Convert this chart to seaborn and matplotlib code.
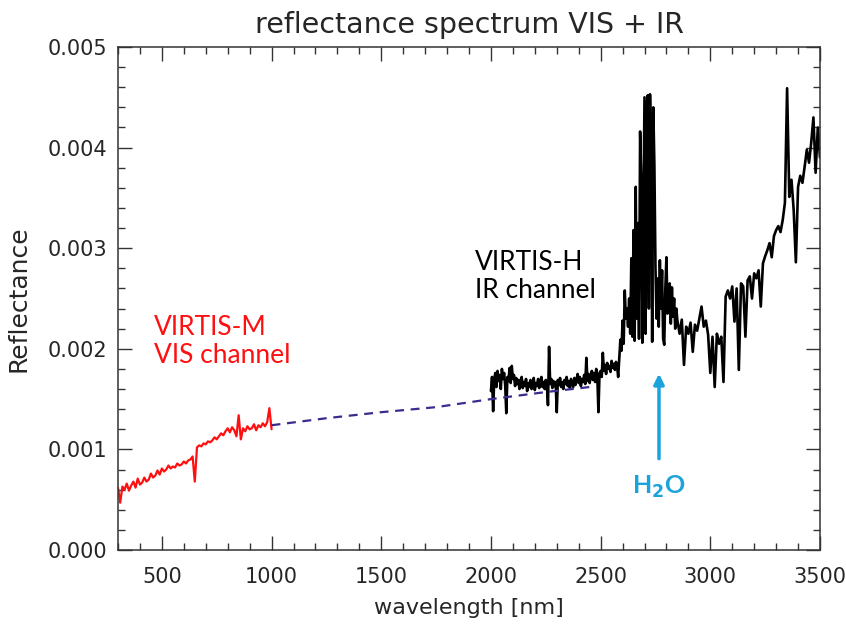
import numpy as np
import matplotlib
matplotlib.use("Agg")
import matplotlib.pyplot as plt
import seaborn as sns
from matplotlib.ticker import MultipleLocator, FormatStrFormatter

# ------------------------------
# Data
# ------------------------------
# VIRTIS-M visible channel (300-1000 nm, 10 nm steps)
vis_nm = np.arange(300, 1001, 10)
vis_refl = [
    0.00062, 0.00047, 0.00063, 0.00060, 0.00066, 0.00059, 0.00064, 0.00068, 0.00062, 0.00071,
    0.00065, 0.00067, 0.00072, 0.00068, 0.00070, 0.00076, 0.00072, 0.00074, 0.00079, 0.00075,
    0.00081, 0.00078, 0.00080, 0.00084, 0.00081, 0.00083, 0.00082, 0.00086, 0.00084, 0.00085,
    0.00088, 0.00086, 0.00089, 0.00090, 0.00093, 0.00068, 0.00102, 0.00104, 0.00103, 0.00106,
    0.00105, 0.00108, 0.00107, 0.00109, 0.00112, 0.00110, 0.00113, 0.00116, 0.00114, 0.00118,
    0.00121, 0.00117, 0.00122, 0.00119, 0.00113, 0.00134, 0.00110, 0.00121, 0.00118, 0.00123,
    0.00120, 0.00121, 0.00125, 0.00119, 0.00124, 0.00122, 0.00126, 0.00123, 0.00127, 0.00141,
    0.00120,
]

# dashed link between the two instruments
gap_nm = [1000, 1250, 1500, 1750, 2000, 2250, 2450]
gap_refl = [0.00124, 0.00131, 0.00137, 0.00142, 0.00150, 0.00157, 0.00162]

# VIRTIS-H infrared channel (5 nm up to 2845 nm, then 10 nm)
ir_nm = np.r_[np.arange(2000, 2850, 5), np.arange(2850, 3501, 10)]
ir_refl = [
    # 2000 - 2595
    0.00158, 0.00172, 0.00138, 0.00170, 0.00176, 0.00162, 0.00178, 0.00168, 0.00174, 0.00160,
    0.00180, 0.00170, 0.00176, 0.00164, 0.00136, 0.00172, 0.00168, 0.00181, 0.00166, 0.00183,
    0.00170, 0.00174, 0.00163, 0.00171, 0.00165, 0.00169, 0.00160, 0.00168, 0.00172, 0.00161,
    0.00167, 0.00163, 0.00170, 0.00158, 0.00166, 0.00162, 0.00169, 0.00160, 0.00167, 0.00171,
    0.00159, 0.00166, 0.00163, 0.00170, 0.00161, 0.00168, 0.00172, 0.00162, 0.00167, 0.00160,
    0.00169, 0.00164, 0.00144, 0.00202, 0.00165, 0.00170, 0.00161, 0.00168, 0.00163, 0.00167,
    0.00137, 0.00169, 0.00164, 0.00171, 0.00162, 0.00167, 0.00160, 0.00169, 0.00165, 0.00172,
    0.00163, 0.00168, 0.00161, 0.00170, 0.00166, 0.00162, 0.00171, 0.00164, 0.00169, 0.00175,
    0.00166, 0.00172, 0.00163, 0.00170, 0.00167, 0.00174, 0.00165, 0.00191, 0.00168, 0.00175,
    0.00166, 0.00173, 0.00178, 0.00169, 0.00176, 0.00167, 0.00180, 0.00172, 0.00137, 0.00176,
    0.00178, 0.00172, 0.00196, 0.00178, 0.00184, 0.00175, 0.00186, 0.00180, 0.00183, 0.00177,
    0.00188, 0.00181, 0.00185, 0.00179, 0.00187, 0.00183, 0.00172, 0.00190, 0.00209, 0.00198,
    # 2600 - 2845
    0.00228, 0.00205, 0.00258, 0.00230, 0.00240, 0.00222, 0.00250, 0.00215, 0.00290, 0.00212,
    0.00318, 0.00208, 0.00361, 0.00230, 0.00325, 0.00210, 0.00416, 0.00371, 0.00206, 0.00330,
    0.00450, 0.00215, 0.00442, 0.00452, 0.00240, 0.00453, 0.00400, 0.00207, 0.00440, 0.00383,
    0.00281, 0.00230, 0.00270, 0.00222, 0.00288, 0.00240, 0.00278, 0.00210, 0.00204, 0.00260,
    0.00291, 0.00235, 0.00255, 0.00265, 0.00225, 0.00261, 0.00232, 0.00250, 0.00220, 0.00240,
    # 2850 - 3500
    0.00228, 0.00215, 0.00229, 0.00184, 0.00222, 0.00215, 0.00226, 0.00197, 0.00224, 0.00218,
    0.00230, 0.00242, 0.00222, 0.00228, 0.00214, 0.00176, 0.00212, 0.00162, 0.00215, 0.00205,
    0.00212, 0.00167, 0.00252, 0.00258, 0.00250, 0.00262, 0.00227, 0.00260, 0.00179, 0.00265,
    0.00262, 0.00212, 0.00268, 0.00272, 0.00250, 0.00275, 0.00270, 0.00278, 0.00242, 0.00285,
    0.00292, 0.00298, 0.00305, 0.00291, 0.00312, 0.00318, 0.00322, 0.00316, 0.00328, 0.00345,
    0.00459, 0.00351, 0.00368, 0.00338, 0.00286, 0.00361, 0.00372, 0.00365, 0.00381, 0.00398,
    0.00385, 0.00405, 0.00430, 0.00375, 0.00420, 0.00390,
]

x_ticks = [500, 1000, 1500, 2000, 2500, 3000, 3500]
y_ticks = [0.000, 0.001, 0.002, 0.003, 0.004, 0.005]

# ------------------------------
# Style
# ------------------------------
sns.set_style("ticks")
idl_font = ["Liberation Sans Narrow", "DejaVu Sans"]
label_font = ["Lato", "DejaVu Sans"]
plt.rcParams["font.family"] = idl_font

fig = plt.figure(figsize=(8.46, 6.27), dpi=100)
ax = fig.add_axes([118 / 846, 1 - 550 / 627, 702 / 846, 503 / 627])

sns.lineplot(x=vis_nm, y=vis_refl, color="#ff1010", linewidth=1.6,
             estimator=None, ax=ax)
sns.lineplot(x=ir_nm, y=ir_refl, color="black", linewidth=1.9,
             estimator=None, ax=ax)
# dashed link drawn last so it shows through the IR noise
sns.lineplot(x=gap_nm, y=gap_refl, color="#3c2a8e", linewidth=1.6,
             linestyle="--", estimator=None, ax=ax)
ax.lines[-1].set_dashes([4, 3])

ax.set_xlim(300, 3500)
ax.set_ylim(0, 0.005)
ax.set_xticks(x_ticks)
ax.set_yticks(y_ticks)
ax.xaxis.set_minor_locator(MultipleLocator(100))
ax.yaxis.set_minor_locator(MultipleLocator(0.0002))
ax.yaxis.set_major_formatter(FormatStrFormatter("%.3f"))
ax.tick_params(which="both", direction="in", top=True, right=True,
               labelsize=15, width=1, color="#333333")
ax.tick_params(which="major", length=10)
ax.tick_params(which="minor", length=5)
ax.tick_params(axis="x", pad=12)
ax.tick_params(axis="y", pad=8)
for side in ax.spines.values():
    side.set_linewidth(1.1)
    side.set_color("#333333")

ax.set_title("reflectance spectrum VIS + IR", fontsize=20.5, pad=10)
ax.set_xlabel("wavelength [nm]", fontsize=16, labelpad=8)
ax.set_ylabel("Reflectance", fontsize=18, labelpad=12)

# ------------------------------
# Annotations
# ------------------------------
ax.text(464, 0.00234, "VIRTIS-M\nVIS channel", color="#ff1010", fontsize=19,
        family=label_font, linespacing=1.15, va="top", ha="left")
ax.text(1927, 0.00298, "VIRTIS-H\nIR channel", color="black", fontsize=19,
        family=label_font, linespacing=1.15, va="top", ha="left")
ax.annotate("", xy=(2766, 0.00178), xytext=(2766, 0.00088),
            arrowprops=dict(arrowstyle="-|>,head_length=0.6,head_width=0.3",
                            color="#1aa3dc", lw=2.5))
ax.text(2766, 0.00063, "H$_\\mathbf{2}$O", color="#1aa3dc", fontsize=18,
        fontweight="bold", family=label_font, ha="center", va="center")

fig.savefig("out.png", dpi=100)
